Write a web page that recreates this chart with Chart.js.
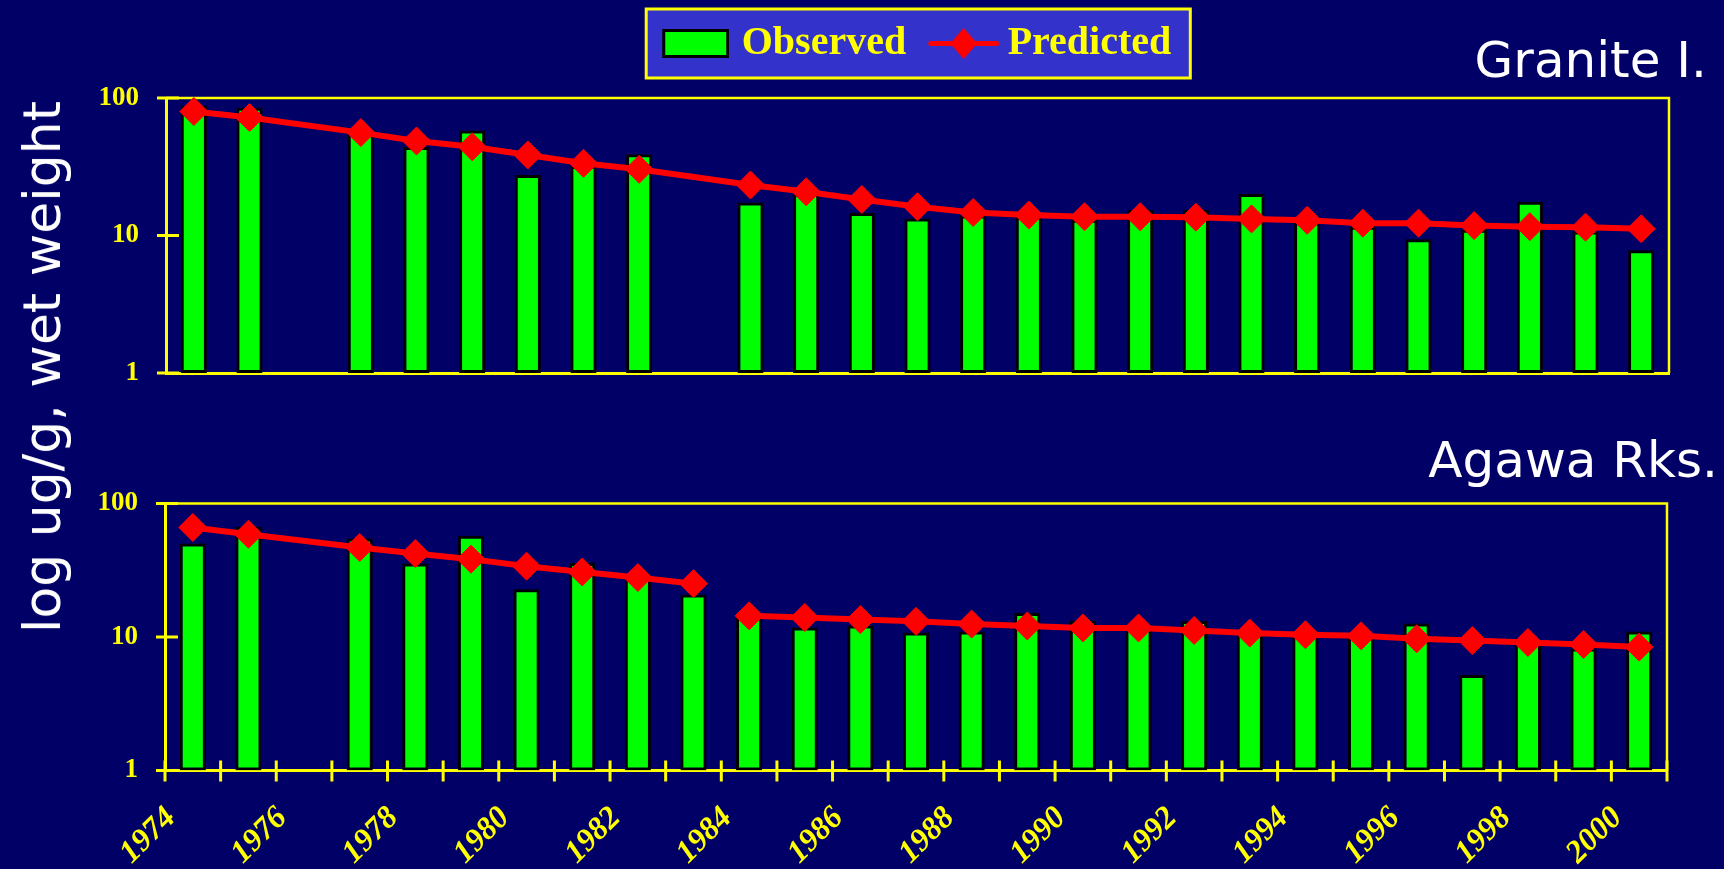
<!DOCTYPE html>
<html>
<head>
<meta charset="utf-8">
<title>Observed vs Predicted</title>
<script src="https://cdn.jsdelivr.net/npm/chart.js@4.4.1/dist/chart.umd.min.js"></script>
<style>
    html, body { margin: 0; padding: 0; background: #000066; }
    body { width: 1724px; height: 869px; position: relative; overflow: hidden; }
    canvas { position: absolute; left: 0; }
    #topChart { top: 0; }
    #bottomChart { top: 440px; }
    .site {
        position: absolute; color: #fff; white-space: nowrap;
        font: 50px "DejaVu Sans", sans-serif; line-height: 50px;
    }
    #yTitle {
        position: absolute; left: 41.5px; top: 367px;
        transform: translate(-50%, -50%) rotate(-90deg);
        color: #fff; white-space: nowrap;
        font: 52px "DejaVu Sans", sans-serif; line-height: 52px;
    }
</style>
</head>
<body>
<canvas id="topChart" width="1724" height="440"></canvas>
<canvas id="bottomChart" width="1724" height="429"></canvas>
<div class="site" style="right:17px; top:35px">Granite I.</div>
<div class="site" style="right:6px; top:435px">Agawa Rks.</div>
<div id="yTitle">log ug/g, wet weight</div>
<script>
// ---- Data ----
const years = [1974, 1975, 1976, 1977, 1978, 1979, 1980, 1981, 1982, 1983, 1984, 1985, 1986, 1987,
               1988, 1989, 1990, 1991, 1992, 1993, 1994, 1995, 1996, 1997, 1998, 1999, 2000];
const xLabels = ['1974', '1976', '1978', '1980', '1982', '1984', '1986',
                 '1988', '1990', '1992', '1994', '1996', '1998', '2000'];
const yTicks = [1, 10, 100];

// Granite I.
const graniteObserved = [88, 85, null, 55, 44, 58, 27.5, 32, 39, null, 17.4, 20, 14.6, 13.3,
                         14, 13.7, 13, 15.3, 15.3, 20, 12.5, 11.6, 9.4, 11, 17.6, 10.7, 7.8];
const granitePredicted = [79.8, 72.1, null, 56, 48.7, 44.2, 38.5, 33.5, 30.3, null, 23.3, 20.8, 18.3, 16.2,
                          14.7, 14.1, 13.7, 13.7, 13.6, 13.2, 12.9, 12.3, 12.3, 11.8, 11.6, 11.5, 11.2];

// Agawa Rks.
const agawaObserved = [50.2, 67, null, 54.7, 35.5, 57.3, 22.8, 35.9, 29, 20.8, 15, 11.8, 12.2, 10.8,
                       11, 15.1, 13.3, 11.5, 13.2, 10.6, 10.6, 10.2, 12.6, 5.2, 9, 8.2, 11];
const agawaPredicted = [66.2, 58.9, null, 46.9, 42.2, 38.3, 33.9, 30.7, 27.9, 25.1, 14.4, 14, 13.5, 13.1,
                        12.5, 12.1, 11.7, 11.7, 11.2, 10.7, 10.4, 10.2, 9.7, 9.4, 9.1, 8.8, 8.4];
const agawaBreakYear = 1983; // predicted line starts over after this year

// ---- Colours ----
const YELLOW = '#FFFF00', GREEN = '#00FF00', RED = '#FF0000', PANEL = '#3333CC';
const SERIF = "'Liberation Serif', 'Times New Roman', serif";

// bars sit in the middle of each year, ticks on the year boundaries
const points = (vals) => years
    .map((yr, i) => ({ x: yr + 0.5, y: vals[i] }))
    .filter(p => p.y !== null);

// ---- Legend symbols ----
function observedSymbol() {
    const c = document.createElement('canvas');
    c.width = 73; c.height = 29;
    const g = c.getContext('2d');
    g.fillStyle = '#000';
    g.fillRect(6, 0, 67, 29);
    g.fillStyle = GREEN;
    g.fillRect(9, 3, 61, 23);
    return c;
}
function predictedSymbol() {
    const c = document.createElement('canvas');
    c.width = 82; c.height = 31;
    const g = c.getContext('2d');
    g.strokeStyle = RED;
    g.lineWidth = 5;
    g.lineCap = 'round';
    g.beginPath();
    g.moveTo(13, 15.5); g.lineTo(79, 15.5);
    g.stroke();
    g.fillStyle = RED;
    g.beginPath();
    g.moveTo(32.5, 15.5); g.lineTo(46, 0); g.lineTo(59.5, 15.5); g.lineTo(46, 31);
    g.closePath();
    g.fill();
    return c;
}
const legendSymbols = [observedSymbol(), predictedSymbol()];

// ---- Plugins ----
// blue box with yellow edge behind the legend
const legendPanel = {
    id: 'legendPanel',
    beforeDraw(chart) {
        const hb = chart.legend && chart.legend.legendHitBoxes;
        if (!hb || hb.length < 2) return;
        const { ctx } = chart;
        const mid = hb[0].top + hb[0].height / 2;
        const left = hb[0].left - 17.5;
        const right = hb[1].left + hb[1].width + 19;
        ctx.save();
        ctx.fillStyle = PANEL;
        ctx.fillRect(left, mid - 34.5, right - left, 69);
        ctx.strokeStyle = YELLOW;
        ctx.lineWidth = 3;
        ctx.strokeRect(left, mid - 34.5, right - left, 69);
        ctx.restore();
    }
};

// top/right frame and tick marks that cross the axis lines
function axisDecor(withYearTicks) {
    return {
        id: 'axisDecor',
        beforeDatasetsDraw(chart) {
            const { ctx, chartArea: a, scales } = chart;
            ctx.save();
            ctx.strokeStyle = YELLOW;
            ctx.lineWidth = 2.5;
            ctx.beginPath();
            ctx.moveTo(a.left, a.top);
            ctx.lineTo(a.right, a.top);
            ctx.lineTo(a.right, a.bottom);
            ctx.stroke();

            ctx.lineWidth = 3;
            ctx.beginPath();
            scales.y.ticks.forEach(t => {
                const py = scales.y.getPixelForValue(t.value);
                ctx.moveTo(a.left - 9, py);
                ctx.lineTo(a.left + 13, py);
            });
            if (withYearTicks) {
                scales.x.ticks.forEach(t => {
                    const px = scales.x.getPixelForValue(t.value);
                    ctx.moveTo(px, a.bottom - 10);
                    ctx.lineTo(px, a.bottom + 11);
                });
            }
            ctx.stroke();
            ctx.restore();
        }
    };
}

// ---- Shared pieces ----
function panelData(observed, predicted, breakYear) {
    return {
        datasets: [
            {
                type: 'bar',
                label: 'Observed',
                data: points(observed),
                xAxisID: 'x', yAxisID: 'y',
                backgroundColor: GREEN,
                borderColor: '#000',
                borderWidth: 3,
                borderSkipped: false,
                barPercentage: 0.47,
                categoryPercentage: 1,
                order: 2
            },
            {
                type: 'line',
                label: 'Predicted',
                data: points(predicted),
                xAxisID: 'x', yAxisID: 'y',
                borderColor: RED,
                borderWidth: 6,
                tension: 0,
                pointStyle: 'rectRot',
                pointRadius: 14,
                pointBackgroundColor: RED,
                pointBorderColor: RED,
                pointBorderWidth: 1,
                clip: false,
                order: 1,
                segment: {
                    // no line between the two model periods
                    borderColor: c => (breakYear !== null &&
                        c.p0.parsed.x < breakYear + 1 && c.p1.parsed.x > breakYear + 1)
                        ? 'rgba(0,0,0,0)' : undefined
                }
            }
        ]
    };
}

function panelScales(showYears, yWidth) {
    const lastEdge = years[years.length - 1] + 1;
    return {
        x: {
            type: 'linear',
            position: 'bottom',
            min: years[0],
            max: lastEdge,
            offset: false,
            afterBuildTicks: s => { s.ticks = years.concat(lastEdge).map(v => ({ value: v })); },
            grid: {
                display: showYears, drawOnChartArea: false, drawTicks: true,
                tickLength: 11, color: 'rgba(0,0,0,0)', offset: false
            },
            border: { color: YELLOW, width: 3 },
            ticks: {
                display: showYears,
                autoSkip: false,
                minRotation: 45,
                maxRotation: 45,
                padding: 18,
                labelOffset: 6,
                color: YELLOW,
                font: { family: SERIF, size: 32, weight: 'bold', style: 'italic' },
                callback: v => xLabels.includes(String(v)) ? String(v) : ''
            },
            afterFit: s => { s.height = showYears ? 98.5 : 0; }
        },
        y: {
            type: 'logarithmic',
            min: 1,
            max: 100,
            afterBuildTicks: s => { s.ticks = yTicks.map(v => ({ value: v })); },
            grid: { drawOnChartArea: false, drawTicks: true, tickLength: 10, color: 'rgba(0,0,0,0)' },
            border: { color: YELLOW, width: 3 },
            ticks: {
                color: YELLOW,
                padding: 17,
                font: { family: SERIF, size: 27, weight: 'bold' },
                callback: v => String(v)
            },
            afterFit: s => { s.width = yWidth; }
        }
    };
}

// ---- Granite I. (with legend) ----
const topScales = panelScales(false, 166);
topScales.gap = {
    // empty axis: only keeps room between legend and plot
    type: 'linear', position: 'top', display: true,
    ticks: { display: false }, grid: { display: false }, border: { display: false },
    afterFit: s => { s.height = 24.5; }
};

new Chart(document.getElementById('topChart'), {
    type: 'bar',
    data: panelData(graniteObserved, granitePredicted, null),
    options: {
        responsive: false,
        animation: false,
        events: [],
        layout: { padding: { top: 0, right: 55, bottom: 67, left: 0 } },
        scales: topScales,
        plugins: {
            tooltip: { enabled: false },
            legend: {
                position: 'top',
                fullSize: false,
                labels: {
                    usePointStyle: true,
                    pointStyleWidth: 58,
                    padding: 23.5,
                    color: YELLOW,
                    font: { family: SERIF, size: 40, weight: 'bold' },
                    generateLabels: chart => chart.data.datasets.map((ds, i) => ({
                        text: ds.label,
                        pointStyle: legendSymbols[i],
                        fontColor: YELLOW,
                        lineWidth: 0,
                        hidden: false,
                        datasetIndex: i
                    }))
                }
            }
        }
    },
    plugins: [legendPanel, axisDecor(false)]
});

// ---- Agawa Rks. (with year axis) ----
new Chart(document.getElementById('bottomChart'), {
    type: 'bar',
    data: panelData(agawaObserved, agawaPredicted, agawaBreakYear),
    options: {
        responsive: false,
        animation: false,
        events: [],
        layout: { padding: { top: 63.5, right: 57, bottom: 0, left: 0 } },
        scales: panelScales(true, 165),
        plugins: {
            tooltip: { enabled: false },
            legend: { display: false }
        }
    },
    plugins: [axisDecor(true)]
});
</script>
</body>
</html>
